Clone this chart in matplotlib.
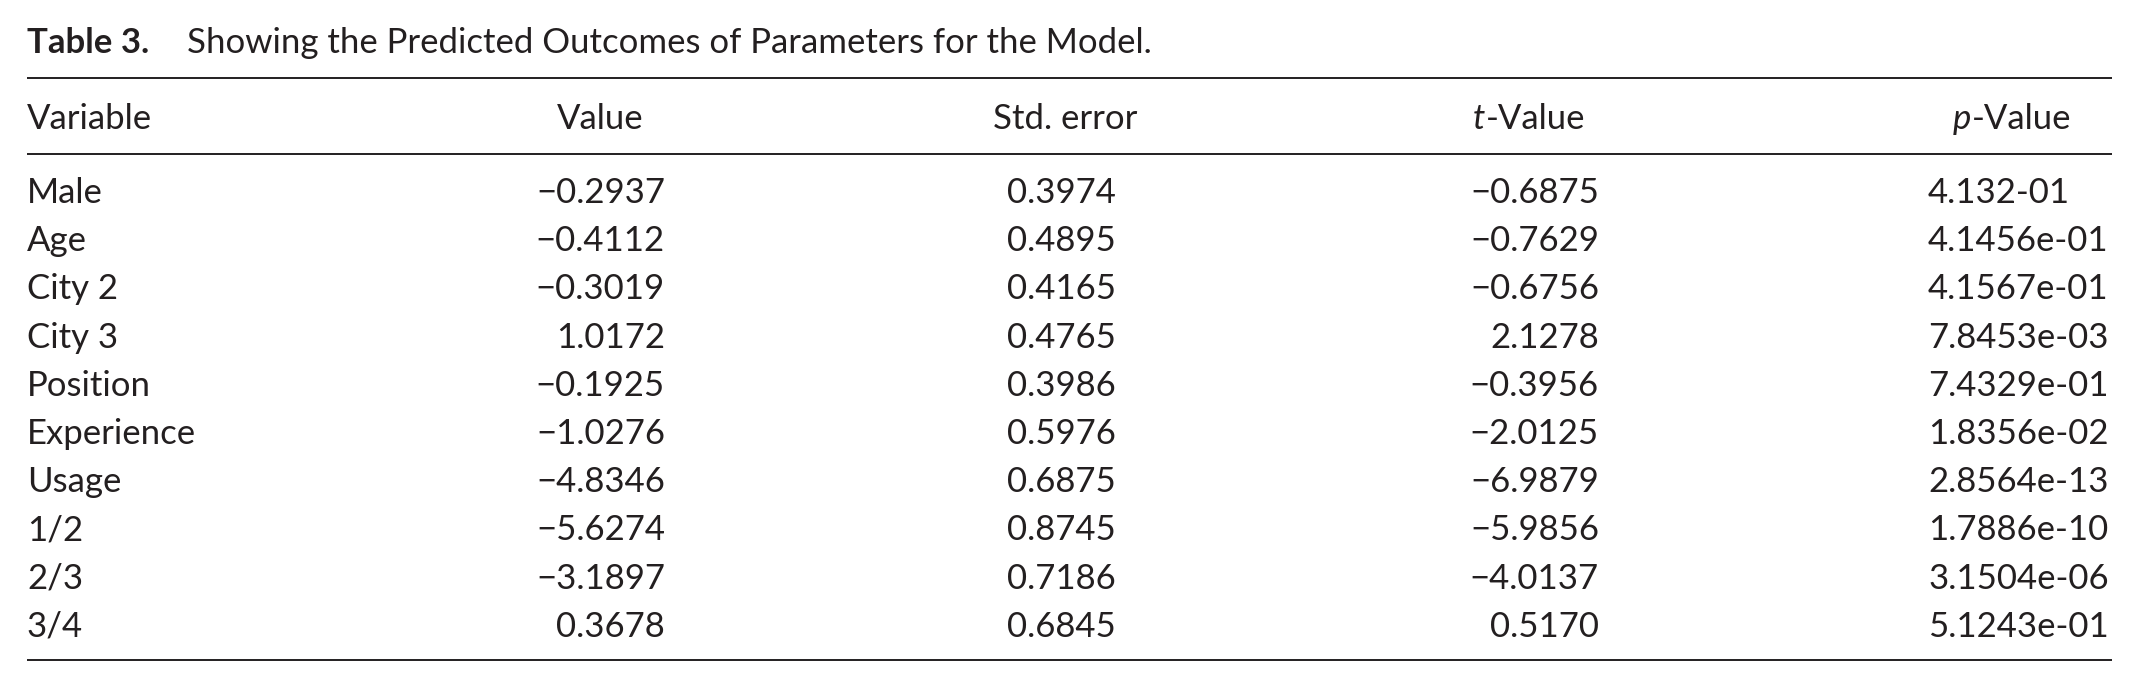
import matplotlib.pyplot as plt

# table contents
variables = ['Male', 'Age', 'City 2', 'City 3', 'Position', 'Experience',
             'Usage', '1/2', '2/3', '3/4']
values = ['\u22120.2937', '\u22120.4112', '\u22120.3019', '1.0172', '\u22120.1925',
          '\u22121.0276', '\u22124.8346', '\u22125.6274', '\u22123.1897', '0.3678']
std_errors = ['0.3974', '0.4895', '0.4165', '0.4765', '0.3986',
              '0.5976', '0.6875', '0.8745', '0.7186', '0.6845']
t_values = ['\u22120.6875', '\u22120.7629', '\u22120.6756', '2.1278', '\u22120.3956',
            '\u22122.0125', '\u22126.9879', '\u22125.9856', '\u22124.0137', '0.5170']
p_values = ['4.132-01', '4.1456e-01', '4.1567e-01', '7.8453e-03', '7.4329e-01',
            '1.8356e-02', '2.8564e-13', '1.7886e-10', '3.1504e-06', '5.1243e-01']

title_bold = 'Table 3.'
title_rest = 'Showing the Predicted Outcomes of Parameters for the Model.'

plt.rcParams['font.family'] = ['Lato', 'DejaVu Sans']
ink = '#231f20'
fs = 25

fig = plt.figure(figsize=(21.39, 6.86), dpi=100)
ax = fig.add_axes([0, 0, 1, 1])
ax.set_xlim(0, 2139)
ax.set_ylim(686, 0)
ax.axis('off')
renderer = fig.canvas.get_renderer()


def width_px(t):
    return t.get_window_extent(renderer).width


def italic_header(letter, rest, cx, y):
    a = ax.text(0, y, letter, fontsize=fs, color=ink, va='baseline', style='italic')
    b = ax.text(0, y, rest, fontsize=fs, color=ink, va='baseline')
    wa, wb = width_px(a), width_px(b)
    left = cx - (wa + wb) / 2
    a.set_x(left)
    b.set_x(left + wa)


# title
ax.text(27, 53, title_bold, fontsize=fs, fontweight='bold', color=ink, va='baseline')
ax.text(187, 53, title_rest, fontsize=fs, color=ink, va='baseline')

# rules
for y in (78, 154, 660):
    ax.plot([27, 2112], [y, y], color=ink, lw=1.4, solid_capstyle='butt')

# header
hy = 129
ax.text(27, hy, 'Variable', fontsize=fs, color=ink, va='baseline')
ax.text(600, hy, 'Value', fontsize=fs, color=ink, va='baseline', ha='center')
ax.text(1065, hy, 'Std. error', fontsize=fs, color=ink, va='baseline', ha='center')
italic_header('t', '-Value', 1529, hy)
italic_header('p', '-Value', 2012, hy)

# body rows
first, pitch = 203, 48.2
for i in range(len(variables)):
    y = first + i * pitch
    ax.text(27, y, variables[i], fontsize=fs, color=ink, va='baseline')
    ax.text(665, y, values[i], fontsize=fs, color=ink, va='baseline', ha='right')
    ax.text(1116, y, std_errors[i], fontsize=fs, color=ink, va='baseline', ha='right')
    ax.text(1599, y, t_values[i], fontsize=fs, color=ink, va='baseline', ha='right')
    ax.text(1928, y, p_values[i], fontsize=fs, color=ink, va='baseline', ha='left')

fig.savefig('out.png', dpi=100)
